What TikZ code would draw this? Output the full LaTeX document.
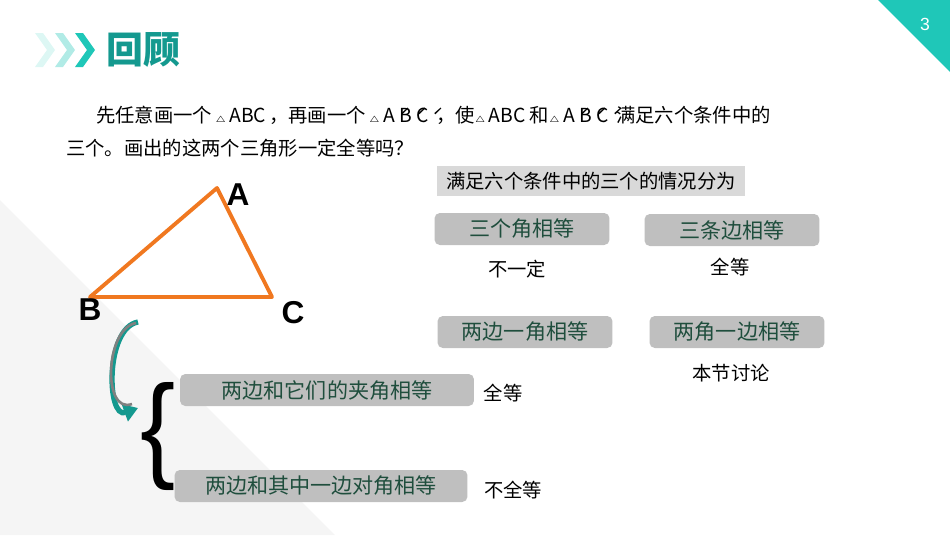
\documentclass[tikz,border=0pt]{standalone}
\usepackage{fontspec}
\setmainfont{Liberation Sans}
\newfontfamily\cjk{Noto Sans CJK SC}
\usetikzlibrary{positioning, arrows.meta}
\definecolor{teal1}{HTML}{1FC7B8}
\definecolor{teal2}{HTML}{14998F}
\definecolor{boxgray}{HTML}{BFBFBF}
\definecolor{boxtext}{HTML}{1F4E3D}
\definecolor{orng}{HTML}{F07820}
\newcommand{\tri}{{\tiny$\triangle$}\,}
\tikzset{
  condbox/.style={fill=boxgray, rounded corners=3pt, minimum height=0.64cm, text=boxtext, font=\cjk\fontsize{12}{14}\selectfont},
  note/.style={font=\cjk\fontsize{11}{13}\selectfont},
  vlabel/.style={font=\bfseries\fontsize{18}{20}\selectfont}
}
\begin{document}
\begin{tikzpicture}[x=0.02cm,y=-0.02cm]
		\useasboundingbox (0,0) rectangle (950,535);
		%background
		\fill[gray!8] (0,200) -- (335,535) -- (0,535) -- cycle;
		\fill[teal1] (878,0) -- (950,0) -- (950,72) -- cycle;
		\node (page) at (925,24) [text=white, font=\fontsize{10}{12}\selectfont] {3};
		
		%title
		\foreach \x/\o in {35/15, 55/35, 75/100}
		\fill[teal1!\o] (\x,33) -- (\x+8,33) -- (\x+20,50) -- (\x+8,67) -- (\x,67) -- (\x+12,50) -- cycle;
		\node (title) at (143,50) [text=teal2, font=\cjk\bfseries\fontsize{21}{24}\selectfont] {回顾};
		
		%question
		\node (q1) at (90,115) [anchor=west, note] {先任意画一个\,\tri ABC\,，再画一个\,\tri A\'{}B\'{}C\'{}\,，使\tri ABC 和\tri A\'{}B\'{}C\'{}\,满足六个条件中的};
		\node (q2) at (60,148) [anchor=west, note] {三个。画出的这两个三角形一定全等吗？};
		
		%triangle
		\coordinate (A) at (217,188);
		\coordinate (B) at (90,297);
		\coordinate (C) at (272,297);
		\draw[orng, line width=2.2pt, line join=round] (A) -- (B) -- (C) -- cycle;
		\node (lA) at (238,195) [vlabel] {A};
		\node (lB) at (90,310) [vlabel] {B};
		\node (lC) at (293,313) [vlabel] {C};
		
		%cases
		\node (head) at (591,181) [fill=gray!30, minimum width=6.16cm, minimum height=0.56cm, note] {满足六个条件中的三个的情况分为};
		\node (aaa) at (522,229) [condbox, minimum width=3.5cm] {三个角相等};
		\node (sss) at (732,230) [condbox, minimum width=3.5cm] {三条边相等};
		\node (ssa) at (525,332) [condbox, minimum width=3.5cm] {两边一角相等};
		\node (aas) at (737,332) [condbox, minimum width=3.5cm] {两角一边相等};
		\node (r1) at (517,269) [note] {不一定};
		\node (r2) at (730,267) [note] {全等};
		\node (r3) at (731,373) [note] {本节讨论};
		
		%sub cases
		\node (sas) at (327,390) [condbox, minimum width=5.88cm] {两边和它们的夹角相等};
		\node (ssa2) at (321,486) [condbox, minimum width=5.86cm] {两边和其中一边对角相等};
		\node (r4) at (503,393) [note] {全等};
		\node (r5) at (513,490) [note] {不全等};
		\node (brace) at (158,437) [font=\fontsize{60}{60}\selectfont, yscale=1.1] {\{};
		
		%curved arrow
		\draw[teal2, line width=3pt, -{Triangle[length=8pt,width=10pt]}] (138,322) to [out=190,in=200] (138,408);
		\draw[gray, line width=1.5pt] (136,323) to [out=190,in=200] (132,404);
		
		\end{tikzpicture}
\end{document}
